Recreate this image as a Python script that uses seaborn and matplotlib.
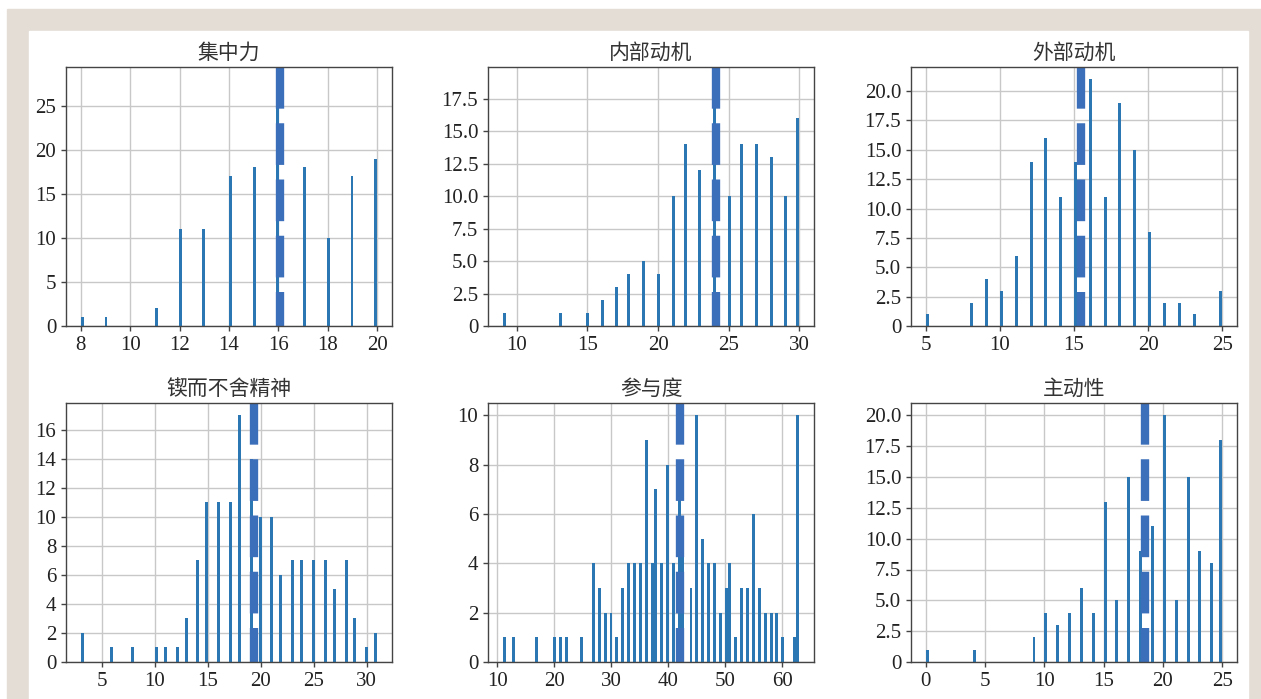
# 分项得分直方图（虚线为均值线）
import numpy as np
import matplotlib
matplotlib.use("Agg")
import matplotlib.pyplot as plt
from matplotlib.patches import Rectangle
from matplotlib.ticker import FuncFormatter, MultipleLocator
import seaborn as sns

titles = ['集中力', '内部动机', '外部动机', '锲而不舍精神', '参与度', '主动性']

focus_scores = [8, 9, 11, 12, 13, 14, 15, 16, 17, 18, 19, 20]
focus_counts = [1, 1, 2, 11, 11, 17, 18, 28, 18, 10, 17, 19]

intrinsic_scores = [9, 13, 15, 16, 17, 18, 19, 20, 21, 22, 23, 24, 25, 26, 27, 28, 29, 30]
intrinsic_counts = [1, 1, 1, 2, 3, 4, 5, 4, 10, 14, 12, 19, 10, 14, 14, 13, 10, 16]

extrinsic_scores = [5, 8, 9, 10, 11, 12, 13, 14, 15, 16, 17, 18, 19, 20, 21, 22, 23, 25]
extrinsic_counts = [1, 2, 4, 3, 6, 14, 16, 11, 14, 21, 11, 19, 15, 8, 2, 2, 1, 3]

grit_scores = [3, 6, 8, 10, 11, 12, 13, 14, 15, 16, 17, 18, 19, 20, 21, 22, 23, 24,
               25, 26, 27, 28, 29, 30, 31]
grit_counts = [2, 1, 1, 1, 1, 1, 3, 7, 11, 11, 11, 17, 14, 10, 10, 6, 7, 7, 7, 7, 5, 7,
               3, 1, 2]

engagement_scores = [11, 13, 17, 20, 21, 22, 25, 27, 28, 29, 30, 31, 32, 33, 34, 35, 36,
                     37, 38, 39, 40, 41, 42, 42.5, 44, 45, 46, 47, 48, 49, 50, 51, 52, 53,
                     54, 55, 56, 57, 58, 59, 60, 62, 63]
engagement_counts = [1, 1, 1, 1, 1, 1, 1, 4, 3, 2, 2, 1, 3, 4, 4, 4, 9, 4, 7, 4, 8, 4,
                     8, 5, 3, 10, 5, 4, 4, 2, 3, 4, 1, 3, 3, 6, 3, 2, 2, 2, 1, 1, 10]

proactive_scores = [0, 4, 9, 10, 11, 12, 13, 14, 15, 16, 17, 18, 19, 20, 21, 22, 23, 24, 25]
proactive_counts = [1, 1, 2, 4, 3, 4, 6, 4, 13, 5, 15, 9, 11, 20, 5, 15, 9, 8, 18]

# 虚线位置
mean_lines = [16.08, 24.12, 15.45, 19.38, 42.13, 18.5]

# 刻度间隔
x_steps = [2, 5, 5, 5, 10, 5]
y_steps = [5, 2.5, 2.5, 2, 2, 2.5]

series = [
    (focus_scores, focus_counts),
    (intrinsic_scores, intrinsic_counts),
    (extrinsic_scores, extrinsic_counts),
    (grit_scores, grit_counts),
    (engagement_scores, engagement_counts),
    (proactive_scores, proactive_counts),
]

sns.set_style("ticks")
plt.rcParams['font.family'] = ['Liberation Serif', 'Noto Sans CJK SC', 'DejaVu Sans']

W, H = 1261, 699
fig = plt.figure(figsize=(W / 100, H / 100), dpi=100, facecolor='white')

# 外框
fig.patches.append(Rectangle((7 / W, 0), (W - 7) / W, (H - 9) / H,
                             transform=fig.transFigure, color='#e4ddd5', zorder=-2))
fig.patches.append(Rectangle((29 / W, 0), (1248 - 29) / W, (H - 31) / H,
                             transform=fig.transFigure, color='white', zorder=-1))

lefts = [66, 488, 911]
tops = [67, 403]
aw, ah = 326, 259

for i, ((xs, cs), title, m) in enumerate(zip(series, titles, mean_lines)):
    r, c = divmod(i, 3)
    ax = fig.add_axes([lefts[c] / W, 1 - (tops[r] + ah) / H, aw / W, ah / H])
    sns.histplot(x=np.array(xs), weights=np.array(cs), bins=100, ax=ax,
                 color='#2a77b4', alpha=1, linewidth=0)
    ax.axvline(m, ymin=1, ymax=0, color='#3c6fba', lw=6,
               linestyle=(0, (5, 1.75)))
    ax.set(xlabel='', ylabel='')
    ax.set_title(title, fontsize=15, family=['Noto Sans CJK SC'], color='#333333')
    ax.grid(True, color='#c8c8c8', lw=1)
    ax.set_axisbelow(True)
    for s in ax.spines.values():
        s.set_color('#444444')
        s.set_linewidth(1)
    ax.tick_params(labelsize=15, colors='#444444', labelcolor='#222222',
                   length=3.5, width=1)
    ax.xaxis.set_major_locator(MultipleLocator(x_steps[i]))
    ax.yaxis.set_major_locator(MultipleLocator(y_steps[i]))
    dec = 1 if y_steps[i] % 1 else 0
    ax.yaxis.set_major_formatter(
        FuncFormatter(lambda v, p, d=dec: '0' if v == 0 else f'{v:.{d}f}'))

fig.savefig('out.png', dpi=100, facecolor='white')
